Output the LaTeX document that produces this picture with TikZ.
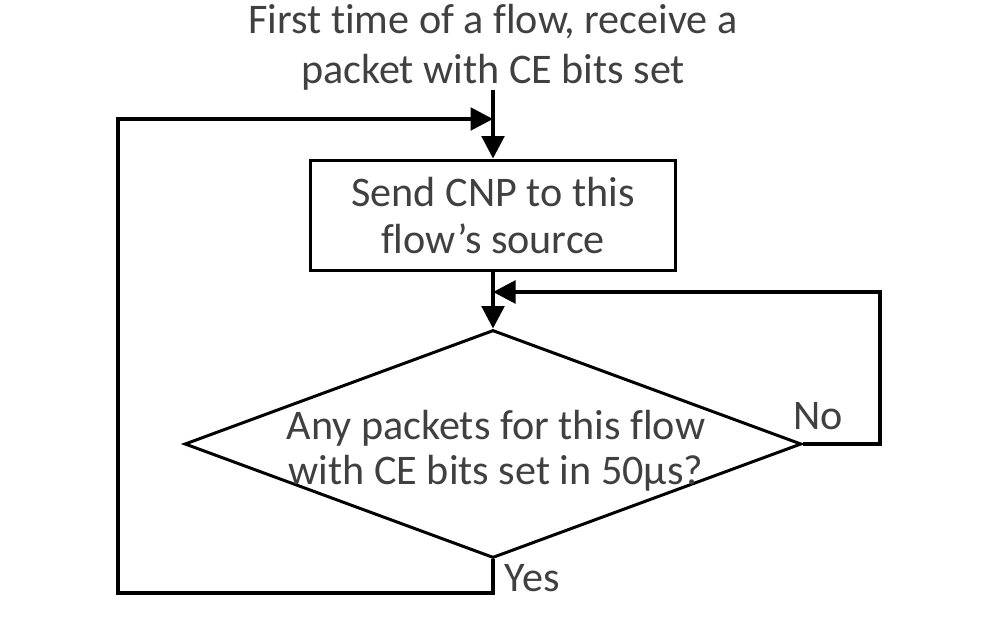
\documentclass[tikz,border=0pt]{standalone}
\usepackage{fontspec}
\setmainfont{Carlito}[Ligatures=NoCommon]
\usetikzlibrary{arrows.meta, shapes.geometric, positioning}
\definecolor{TextGray}{RGB}{64,64,64}

\begin{document}
\begin{tikzpicture}[x=0.02cm, y=-0.02cm,
    every node/.style={text=TextGray, font=\fontsize{24}{27.2}\selectfont},
    procbox/.style={draw=black, line width=1.7pt, minimum width=7.32cm, minimum height=2.22cm, align=center, inner sep=0pt},
    decide/.style={diamond, draw=black, line width=1.7pt, aspect=2.7, minimum width=12.34cm, minimum height=4.56cm, inner sep=0pt},
    flow/.style={line width=2.2pt, -{Triangle[length=0.45cm, width=0.45cm]}}]
  \useasboundingbox (0,0) rectangle (1000,618);
  \node[align=center, inner sep=0pt, font=\fontsize{24}{28.3}\selectfont] (start) at (493,47) {First time of a flow, receive a\\packet with CE bits set};
  \node[procbox] (send) at (493,215.5) {Send CNP to this\\flow’s source};
  \node[decide] (check) at (493,444) {};
  \node[align=center, inner sep=0pt, font=\fontsize{24}{25.5}\selectfont] (question) at (496,451) {Any packets for this flow\\with CE bits set in 50μs?};
  \coordinate (entry) at (493,119);
  \coordinate (merge) at (493,292);
  \coordinate (yesend) at (493,593);
  \coordinate (loopcorner) at (118,119);
  \coordinate (noend) at (880,444);
  \draw[flow] (start.south) -- (send.north);
  \draw[flow] (send.south) -- (check.north);
  \draw[flow] (check.south) -- (yesend) -| (loopcorner) -- (entry);
  \draw[flow] (check.east) -- (noend) |- (merge);
  \node (nolabel) at (818,416) {No};
  \node (yeslabel) at (532,578) {Yes};
\end{tikzpicture}
\end{document}
